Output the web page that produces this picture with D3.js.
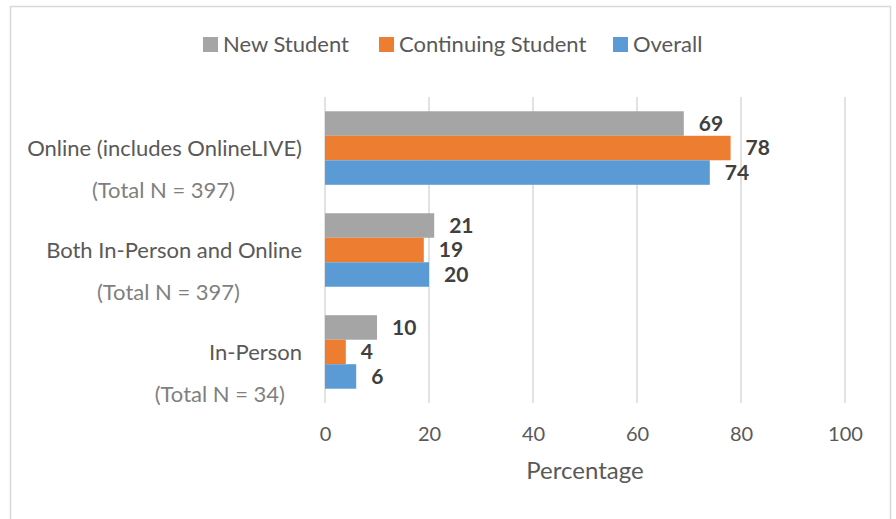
<!DOCTYPE html>
<html><head><meta charset="utf-8">
<script src="https://cdn.jsdelivr.net/npm/d3@7"></script>
<style>body{margin:0;background:#fff}svg{display:block}text{font-family:Lato,"Open Sans",sans-serif}</style>
</head><body><svg id="c" width="896" height="519"></svg>
<script>
const categories = ["Online (includes OnlineLIVE)", "Both In-Person and Online", "In-Person"];
const totals = ["(Total N = 397)", "(Total N = 397)", "(Total N = 34)"];
const seriesNames = ["New Student", "Continuing Student", "Overall"];
const newStudent = [69, 21, 10];
const continuing = [78, 19, 4];
const overall = [74, 20, 6];
const xTicks = [0, 20, 40, 60, 80, 100];
const colors = ["#A5A5A5", "#ED7D31", "#5B9BD5"];
const seriesValues = [newStudent, continuing, overall];

const svg = d3.select("#c");
// chart frame
svg.append("path").attr("d","M10.5,530 V6.5 H890.5 V530").attr("fill","none").attr("stroke","#D9D9D9").attr("stroke-width",1.5);

const x = d3.scaleLinear().domain([0,100]).range([325,845]);
const y0 = d3.scaleBand().domain(categories).range([97,403]).paddingInner(0.279).paddingOuter(0.14);
const y1 = d3.scaleBand().domain(seriesNames).range([0,y0.bandwidth()]);

// gridlines
svg.append("g").selectAll("line").data(xTicks).join("line")
  .attr("x1",d=>x(d)).attr("x2",d=>x(d)).attr("y1",97).attr("y2",403)
  .attr("stroke","#D9D9D9").attr("stroke-width",1.5);

// x axis tick labels
const ax = svg.append("g").attr("transform","translate(0,434)")
  .call(d3.axisBottom(x).tickValues(xTicks).tickSize(0).tickPadding(0));
ax.select(".domain").remove();
ax.selectAll("text").attr("fill","#595959").attr("font-size",20).attr("dy","0.35em").attr("font-family","Lato,'Open Sans',sans-serif");

svg.append("text").attr("x",x(50)).attr("y",471).attr("dy","0.35em").attr("text-anchor","middle")
  .attr("fill","#595959").attr("font-size",24).text("Percentage");

// bars
const rows = [];
categories.forEach((c,i)=>seriesNames.forEach((s,j)=>rows.push({c,s,v:seriesValues[j][i],j})));
const g = svg.append("g");
g.selectAll("rect").data(rows).join("rect")
  .attr("x",x(0)).attr("y",d=>y0(d.c)+y1(d.s)).attr("width",d=>x(d.v)-x(0)).attr("height",y1.bandwidth())
  .attr("fill",d=>colors[d.j]);
g.selectAll("text").data(rows).join("text")
  .attr("x",d=>x(d.v)+15).attr("y",d=>y0(d.c)+y1(d.s)+y1.bandwidth()/2).attr("dy","0.35em")
  .attr("fill","#404040").attr("font-weight","bold").attr("font-size",21).text(d=>d.v);

// category labels
const labelRight = 302;
const totalRight = [235, 240, 285];
categories.forEach((c,i)=>{
  const top = y0(c);
  svg.append("text").attr("x",labelRight).attr("y",top+y1(seriesNames[1])+y1.bandwidth()/2).attr("dy","0.35em")
    .attr("text-anchor","end").attr("fill","#595959").attr("font-size",22).text(c);
  svg.append("text").attr("x",totalRight[i]).attr("y",top+y0.bandwidth()+6).attr("dy","0.35em")
    .attr("text-anchor","end").attr("fill","#7F7F7F").attr("font-size",22).text(totals[i]);
});

// legend
const legendX = [203, 379, 613];
const lg = svg.append("g");
seriesNames.forEach((s,j)=>{
  lg.append("rect").attr("x",legendX[j]).attr("y",37).attr("width",15).attr("height",15).attr("fill",colors[j]);
  lg.append("text").attr("x",legendX[j]+20).attr("y",44.5).attr("dy","0.35em").attr("fill","#595959").attr("font-size",22).text(s);
});
</script></body></html>
